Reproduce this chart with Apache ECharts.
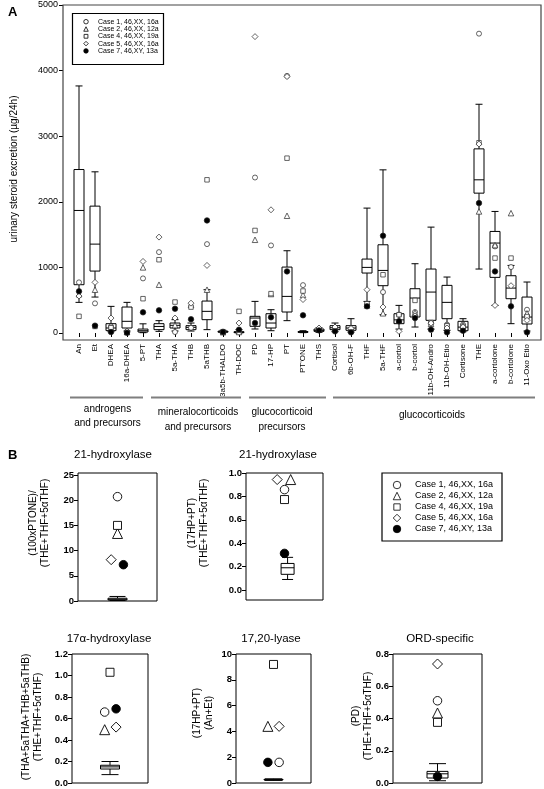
<!DOCTYPE html>
<html>
<head>
<meta charset="utf-8">
<script src="https://cdn.jsdelivr.net/npm/echarts@6/dist/echarts.min.js"></script>
<style>html,body{margin:0;padding:0;background:#fff}#main{width:544px;height:789px}</style>
</head>
<body>
<div id="main"></div>
<script>
// ---------- Panel A data ----------
const categories = ['An','Et','DHEA','16a-DHEA','5-PT','THA','5a-THA','THB','5aTHB','3a5b-THALDO','TH-DOC','PD','17-HP','PT',"PT'ONE",'THS','Cortisol','6b-OH-F','THF','5a-THF','a-cortol','b-cortol','11b-OH-Andro','11b-OH-Etio','Cortisone','THE','a-cortolone','b-cortolone','11-Oxo Etio'];
const boxLow  = [467,548,20,30,5,25,30,30,51,5,0,61,35,188,5,10,20,15,481,279,60,91,60,40,20,975,421,142,30];
const boxQ1   = [736,944,36,76,15,51,76,51,203,12,5,102,76,320,10,25,51,41,914,721,142,244,193,218,35,2132,848,523,137];
const boxMed  = [1868,1355,76,178,35,100,117,86,330,20,10,228,152,558,15,40,80,76,1000,954,200,533,624,467,90,2335,1371,685,243];
const boxQ3   = [2492,1934,142,396,60,142,152,112,487,28,20,254,294,1005,22,60,112,112,1127,1345,294,675,975,726,178,2807,1548,873,548];
const boxHigh = [3766,2457,406,467,140,188,203,152,660,40,50,482,355,1254,35,80,152,218,1904,2487,421,1056,1614,853,218,3487,1853,1030,777];
const case1 = [772,452,100,20,832,1233,15,80,1355,15,10,2370,1335,3920,730,50,60,40,430,624,279,320,152,127,127,4563,1320,1005,355];
const case2 = [590,660,60,15,1000,736,120,430,660,12,15,1421,594,1787,580,70,80,60,420,300,200,310,140,100,110,1853,1340,1827,300];
const case4 = [254,100,80,10,523,1117,472,395,2335,20,330,1563,600,2665,640,45,50,30,447,888,279,497,160,110,100,2900,1142,1142,250];
const case5 = [563,772,228,30,1091,1462,228,455,1030,18,152,4518,1878,3909,510,76,91,70,660,396,25,260,150,76,90,2880,421,721,193];
const case7 = [635,112,15,5,315,345,370,210,1716,15,51,152,239,939,270,40,25,10,406,1482,178,228,51,10,35,1980,939,406,10];
const yMaxA = 5000, yStepA = 1000;
const caseNames = ['Case 1, 46,XX, 16a','Case 2, 46,XX, 12a','Case 4, 46,XX, 19a','Case 5, 46,XX, 16a','Case 7, 46,XY, 13a'];
const groupLabels = ['androgens\nand precursors','mineralocorticoids\nand precursors','glucocorticoid\nprecursors','glucocorticoids'];

// ---------- Panel B data ----------
const bTitles = ['21-hydroxylase','21-hydroxylase','17α-hydroxylase','17,20-lyase','ORD-specific'];
const bYNames = ['(100xPTONE)/\n(THE+THF+5αTHF)','(17HP+PT)\n(THE+THF+5αTHF)','(THA+5aTHA+THB+5aTHB)\n(THE+THF+5αTHF)','(17HP+PT)\n(An+Et)','(PD)\n(THE+THF+5αTHF)'];
const bBoxLow  = [0.1, 0.09, 0.078, 0.2, 0.014];
const bBoxQ1   = [0.2, 0.134, 0.13, 0.23, 0.031];
const bBoxMed  = [0.35, 0.19, 0.15, 0.26, 0.057];
const bBoxQ3   = [0.55, 0.227, 0.165, 0.29, 0.072];
const bBoxHigh = [0.9, 0.279, 0.2, 0.32, 0.12];
const bCase1 = [20.7, 0.858, 0.66, 1.6, 0.51];
const bCase2 = [13.4, 0.944, 0.496, 4.39, 0.434];
const bCase4 = [15.0, 0.773, 1.03, 9.19, 0.376];
const bCase5 = [8.2, 0.944, 0.52, 4.39, 0.738];
const bCase7 = [7.2, 0.313, 0.69, 1.6, 0.041];
const bYMax = [25, 1.0, 1.2, 10, 0.8];
const bYStep = [5, 0.2, 0.2, 2, 0.2];
const bYDecimals = [0, 1, 1, 0, 1];

// ---------- layout (positions/styles) ----------
const FONT = '"Liberation Sans", Arial, Helvetica, sans-serif';
const bGrids = [
  {left:78, top:475, width:79, height:126, frame:[78,473,79,128], title:[113,455], yname:[39,523]},
  {left:246, top:473, width:77, height:117, frame:[246,473,77,127], title:[278,455], yname:[198,523]},
  {left:72, top:654, width:76, height:129, frame:[72,654,76,129], title:[109,639], yname:[32,717]},
  {left:236, top:654, width:75, height:129, frame:[236,654,75,129], title:[271,639], yname:[203,713]},
  {left:393, top:654, width:89, height:129, frame:[393,654,89,129], title:[440,639], yname:[362,716]}
];
const bBoxX = [1.0, 1.08, 1.0, 1.0, 1.0];
const bBoxW = [19, 13, 19, 19, 21];
const bCapW = [16, 11, 17, 17, 17];
// horizontal jitter of each case inside each B subplot (case1, case2, case4, case5, case7)
const bJitter = [
  [1.0, 1.0, 1.0, 0.84, 1.15],
  [1.0, 1.16, 1.0, 0.81, 1.0],
  [0.86, 0.86, 1.0, 1.16, 1.16],
  [1.15, 0.85, 1.0, 1.15, 0.85],
  [1.0, 1.0, 1.0, 1.0, 1.0]
];
const symA = [
  {symbol:'circle', size:5, fill:'#fff'},
  {symbol:'triangle', size:5.5, fill:'#fff'},
  {symbol:'rect', size:4.5, fill:'#fff'},
  {symbol:'diamond', size:6, fill:'#fff'},
  {symbol:'circle', size:5.5, fill:'#000'}
];
const symB = [
  {symbol:'circle', size:8.5, fill:'#fff'},
  {symbol:'triangle', size:10, fill:'#fff'},
  {symbol:'rect', size:8, fill:'#fff'},
  {symbol:'diamond', size:10, fill:'#fff'},
  {symbol:'circle', size:8.5, fill:'#000'}
];

function boxRender(boxW, capW){
  return function(params, api){
    const x = api.value(0);
    const lo = api.coord([x, api.value(1)]);
    const q1 = api.coord([x, api.value(2)]);
    const md = api.coord([x, api.value(3)]);
    const q3 = api.coord([x, api.value(4)]);
    const hi = api.coord([x, api.value(5)]);
    const cx = lo[0];
    const ls = {stroke:'#000', lineWidth:1, fill:null};
    return {type:'group', children:[
      {type:'line', shape:{x1:cx,y1:hi[1],x2:cx,y2:q3[1]}, style:ls},
      {type:'line', shape:{x1:cx,y1:q1[1],x2:cx,y2:lo[1]}, style:ls},
      {type:'line', shape:{x1:cx-capW/2,y1:hi[1],x2:cx+capW/2,y2:hi[1]}, style:ls},
      {type:'line', shape:{x1:cx-capW/2,y1:lo[1],x2:cx+capW/2,y2:lo[1]}, style:ls},
      {type:'rect', shape:{x:cx-boxW/2,y:q3[1],width:boxW,height:Math.max(q1[1]-q3[1],0.5)}, style:{stroke:'#000',lineWidth:1,fill:'#fff'}},
      {type:'line', shape:{x1:cx-boxW/2,y1:md[1],x2:cx+boxW/2,y2:md[1]}, style:ls}
    ]};
  };
}

function text(x, y, t, o){
  o = o || {};
  return {type:'text', x:x, y:y, rotation:o.rot||0, z:10,
    style:{text:t, fill:'#000', fontSize:o.size||10, fontWeight:o.weight||'normal', fontFamily:FONT,
      textAlign:o.align||'center', textVerticalAlign:'middle', align:o.align||'center', verticalAlign:'middle',
      lineHeight:o.lh||12}};
}
function legendSymbol(k, cx, cy, s){
  const st = {fill: k===4 ? '#000' : '#fff', stroke:'#000', lineWidth:0.8};
  const h = s/2;
  if (k===0 || k===4) return {type:'circle', shape:{cx:cx, cy:cy, r:h}, style:st, z:11};
  if (k===1) return {type:'polygon', shape:{points:[[cx,cy-h],[cx+h,cy+h],[cx-h,cy+h]]}, style:st, z:11};
  if (k===2) return {type:'rect', shape:{x:cx-h*0.85, y:cy-h*0.85, width:s*0.85, height:s*0.85}, style:st, z:11};
  return {type:'polygon', shape:{points:[[cx,cy-h],[cx+h,cy],[cx,cy+h],[cx-h,cy]]}, style:st, z:11};
}
function legendBlock(x, y, w, h, rowY0, rowStep, symX, txtX, fs, symS){
  const els = [{type:'rect', shape:{x:x,y:y,width:w,height:h}, style:{fill:'#fff', stroke:'#000', lineWidth:1.2}, z:10}];
  caseNames.forEach((n,k)=>{
    const cy = rowY0 + k*rowStep;
    els.push(legendSymbol(k, symX, cy, symS));
    els.push(text(txtX, cy, n, {size:fs, align:'left'}));
  });
  return els;
}

const caseArrA = [case1, case2, case4, case5, case7];
const caseArrB = [bCase1, bCase2, bCase4, bCase5, bCase7];

const grid = [{left:71, top:5, width:464, height:328}].concat(bGrids.map(g=>({left:g.left, top:g.top, width:g.width, height:g.height})));

const xAxis = [{
  type:'category', gridIndex:0, data:categories, boundaryGap:true, offset:7,
  axisLine:{show:false},
  axisTick:{show:true, alignWithLabel:true, length:4, lineStyle:{color:'#000', width:1}},
  axisLabel:{rotate:90, interval:0, fontSize:8, color:'#000', margin:4, fontFamily:FONT},
  splitLine:{show:false}
}].concat(bGrids.map((g,k)=>({type:'value', gridIndex:k+1, min:0, max:2, show:false})));

const yAxis = [{
  type:'value', gridIndex:0, min:0, max:yMaxA, interval:yStepA, offset:8,
  axisLine:{show:false},
  axisTick:{show:true, length:4, lineStyle:{color:'#000', width:1}},
  axisLabel:{fontSize:9, color:'#000', margin:5, fontFamily:FONT, formatter:(v)=>String(v)},
  splitLine:{show:false}
}].concat(bGrids.map((g,k)=>({
  type:'value', gridIndex:k+1, min:0, max:bYMax[k], interval:bYStep[k],
  axisLine:{show:false},
  axisTick:{show:true, length:4, lineStyle:{color:'#000', width:1}},
  axisLabel:{fontSize:9.5, fontWeight:'bold', color:'#000', margin:4, fontFamily:FONT,
    formatter:(v)=>Number(v).toFixed(bYDecimals[k])},
  splitLine:{show:false}
})));

const series = [];
series.push({type:'custom', xAxisIndex:0, yAxisIndex:0, renderItem:boxRender(10,7), silent:true, z:2,
  encode:{x:0, y:[1,2,3,4,5]},
  data:categories.map((c,i)=>[i, boxLow[i], boxQ1[i], boxMed[i], boxQ3[i], boxHigh[i]])});
caseArrA.forEach((arr,k)=>{
  series.push({type:'scatter', name:caseNames[k], xAxisIndex:0, yAxisIndex:0, z:3+k, silent:true,
    symbol:symA[k].symbol, symbolSize:symA[k].size,
    itemStyle:{color:symA[k].fill, borderColor:'#222', borderWidth:0.7, opacity:1},
    data:arr.map((v,i)=>[i,v])});
});
bGrids.forEach((g,j)=>{
  series.push({type:'custom', xAxisIndex:j+1, yAxisIndex:j+1, renderItem:boxRender(bBoxW[j], bCapW[j]), silent:true, z:2,
    encode:{x:0, y:[1,2,3,4,5]},
    data:[[bBoxX[j], bBoxLow[j], bBoxQ1[j], bBoxMed[j], bBoxQ3[j], bBoxHigh[j]]]});
  caseArrB.forEach((arr,k)=>{
    series.push({type:'scatter', name:caseNames[k], xAxisIndex:j+1, yAxisIndex:j+1, z:3+k, silent:true,
      symbol:symB[k].symbol, symbolSize:symB[k].size,
      itemStyle:{color:symB[k].fill, borderColor:'#000', borderWidth:0.9, opacity:1},
      data:[[bJitter[j][k], arr[j]]]});
  });
});

const graphic = [];
// Panel A frame
graphic.push({type:'rect', shape:{x:63, y:5, width:478, height:335}, style:{fill:null, stroke:'#444', lineWidth:1.2}, z:9, silent:true});
graphic.push(text(8, 12, 'A', {size:13, weight:'bold', align:'left'}));
graphic.push(text(14, 169, 'urinary steroid excretion (µg/24h)', {size:10, rot:Math.PI/2}));
// group lines
[[70,143],[151,241],[249,326],[333,535]].forEach(s=>{
  graphic.push({type:'line', shape:{x1:s[0], y1:397.5, x2:s[1], y2:397.5}, style:{stroke:'#7f7f7f', lineWidth:2}, z:9});
});
graphic.push(text(107.5, 416, groupLabels[0], {size:10, lh:14.5}));
graphic.push(text(198, 419.5, groupLabels[1], {size:10, lh:14.5}));
graphic.push(text(282, 419.5, groupLabels[2], {size:10, lh:14.5}));
graphic.push(text(432, 415, groupLabels[3], {size:10}));
// Panel A legend
legendBlock(72.5, 13.5, 91, 51, 21.7, 7.3, 86, 98, 7, 4.5).forEach(e=>graphic.push(e));
// Panel B
graphic.push(text(8, 455, 'B', {size:13, weight:'bold', align:'left'}));
bGrids.forEach((g,j)=>{
  graphic.push({type:'rect', shape:{x:g.frame[0], y:g.frame[1], width:g.frame[2], height:g.frame[3]}, style:{fill:null, stroke:'#000', lineWidth:1}, z:9, silent:true});
  graphic.push(text(g.title[0], g.title[1], bTitles[j], {size:11.5}));
  graphic.push(text(g.yname[0], g.yname[1], bYNames[j], {size:10, rot:Math.PI/2, lh:12}));
});
legendBlock(382, 473, 120, 68, 485, 11, 397, 415, 9, 7.5).forEach(e=>graphic.push(e));

const chart = echarts.init(document.getElementById('main'), null, {renderer:'canvas'});
chart.setOption({
  animation:false,
  backgroundColor:'#fff',
  textStyle:{fontFamily:FONT},
  grid:grid, xAxis:xAxis, yAxis:yAxis, series:series, graphic:graphic
});
</script>
</body>
</html>
